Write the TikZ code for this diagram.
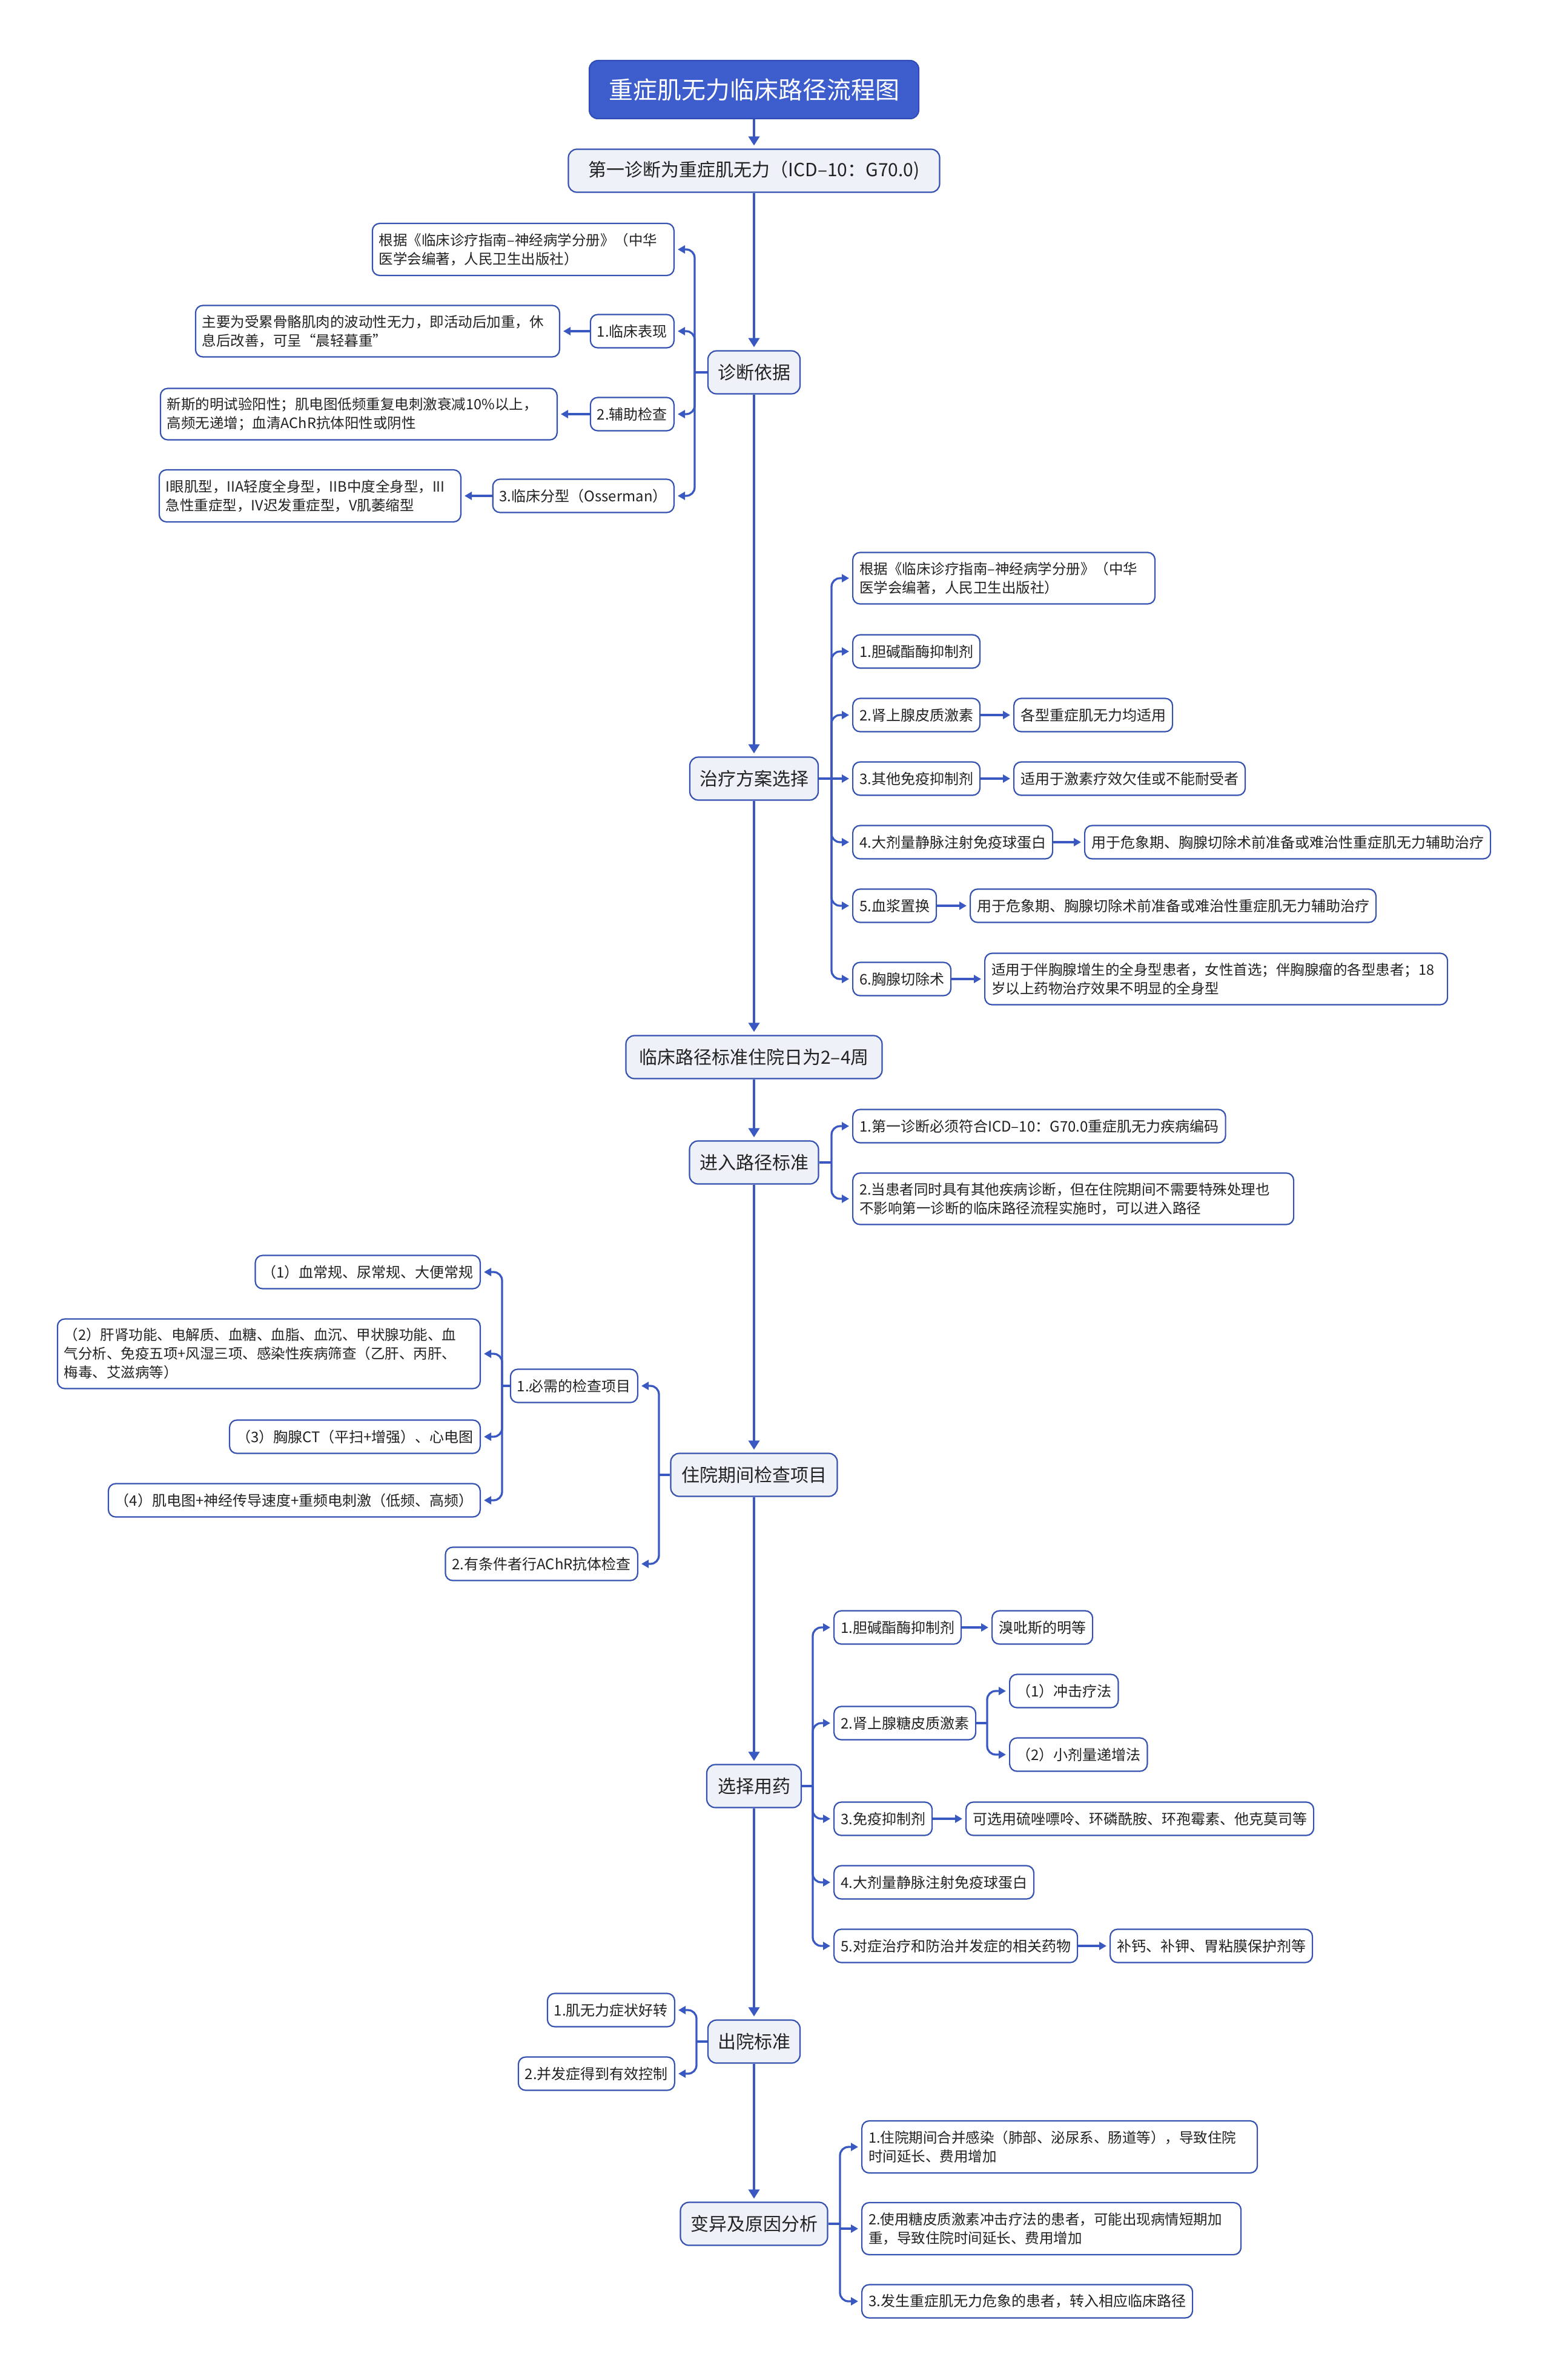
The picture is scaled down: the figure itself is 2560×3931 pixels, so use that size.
\documentclass[tikz,border=0pt]{standalone}
\usepackage{fontspec}
\setmainfont{Noto Sans CJK SC}
\usetikzlibrary{arrows.meta}
\definecolor{lc}{HTML}{3A58C2}
\definecolor{bc}{HTML}{3552B0}
\definecolor{mf}{HTML}{EEF2F8}
\definecolor{tf}{HTML}{3D5DCC}
\definecolor{tb}{HTML}{2F4BB5}
\definecolor{tc}{HTML}{222222}
\newcommand\fsz{\fontsize{24pt}{31pt}\selectfont}
\newcommand\fsm{\fontsize{23.5pt}{31pt}\selectfont}
\newcommand\fmz{\fontsize{30pt}{36pt}\selectfont}
\newcommand\ftz{\fontsize{40pt}{48pt}\selectfont}
\begin{document}
\begin{tikzpicture}[x=1pt,y=-1pt,
  leaf/.style={rounded corners=12pt, draw=bc, line width=2.2pt, fill=white, text=tc, font=\fsz, inner xsep=11pt, inner ysep=0pt, minimum height=55pt},
  multi/.style={leaf, font=\fsm, align=left, text width=#1},
  mainbox/.style={rounded corners=14pt, draw=bc, line width=2.2pt, fill=mf, text=tc, font=\fmz, inner xsep=16pt, inner ysep=0pt, minimum height=71pt},
  titlebox/.style={rounded corners=14pt, draw=tb, line width=2pt, fill=tf, text=white, font=\ftz, minimum width=544pt, minimum height=96pt},
  bar/.style={draw=lc, line width=3.3pt},
  link/.style={draw=lc, line width=3.3pt, -{Triangle[length=12pt,width=13pt]}, shorten >=5pt},
  blink/.style={link, rounded corners=14pt},
  mlink/.style={draw=lc, line width=3.5pt, -{Triangle[length=15pt,width=18pt]}, shorten >=5pt},
]
\useasboundingbox (0,0) rectangle (2560,3931);
\fill[white] (0,0) rectangle (2560,3931);

% main column
\node[titlebox] (title) at (1245,148) {重症肌无力临床路径流程图};
\node[mainbox, minimum width=613pt] (n1) at (1245,282) {第一诊断为重症肌无力（ICD–10：G70.0)};
\node[mainbox, minimum width=151pt] (n2) at (1245,615) {诊断依据};
\node[mainbox, minimum width=211pt] (n3) at (1245,1286) {治疗方案选择};
\node[mainbox, minimum width=423pt] (n4) at (1245,1746) {临床路径标准住院日为2–4周};
\node[mainbox, minimum width=213pt] (n5) at (1245,1920) {进入路径标准};
\node[mainbox, minimum width=275pt] (n6) at (1245,2436) {住院期间检查项目};
\node[mainbox, minimum width=156pt] (n7) at (1245,2950) {选择用药};
\node[mainbox, minimum width=151pt] (n8) at (1245,3372) {出院标准};
\node[mainbox, minimum width=243pt] (n9) at (1245,3673) {变异及原因分析};

\draw[mlink] (title.south) -- (n1.north);
\draw[mlink] (n1.south) -- (n2.north);
\draw[mlink] (n2.south) -- (n3.north);
\draw[mlink] (n3.south) -- (n4.north);
\draw[mlink] (n4.south) -- (n5.north);
\draw[mlink] (n5.south) -- (n6.north);
\draw[mlink] (n6.south) -- (n7.north);
\draw[mlink] (n7.south) -- (n8.north);
\draw[mlink] (n8.south) -- (n9.north);

% 诊断依据 (left)
\coordinate (j2) at (1147,615);
\node[multi=476pt, minimum height=86pt, anchor=east] (d0) at (1114,412) {根据《临床诊疗指南–神经病学分册》（中华\\医学会编著，人民卫生出版社）};
\node[leaf, anchor=east] (d1) at (1114,547) {1.临床表现};
\node[leaf, anchor=east] (d2) at (1114,684) {2.辅助检查};
\node[leaf, anchor=east] (d3) at (1114,819) {3.临床分型（Osserman）};
\node[multi=579pt, minimum height=85pt, anchor=east] (d1a) at (925,547) {主要为受累骨骼肌肉的波动性无力，即活动后加重，休\\息后改善，可呈“晨轻暮重”};
\node[multi=633pt, minimum height=85pt, anchor=east] (d2a) at (921,684) {新斯的明试验阳性；肌电图低频重复电刺激衰减10\%以上，\\高频无递增；血清AChR抗体阳性或阴性};
\node[multi=476pt, minimum height=86pt, anchor=east] (d3a) at (762,819) {I眼肌型，IIA轻度全身型，IIB中度全身型，III\\急性重症型，IV迟发重症型，V肌萎缩型};
\draw[bar] (n2.west) -- (j2);
\foreach \c in {d0,d1,d2,d3} \draw[blink] (j2) |- (\c.east);
\draw[link] (d1.west) -- (d1a.east);
\draw[link] (d2.west) -- (d2a.east);
\draw[link] (d3.west) -- (d3a.east);

% 治疗方案选择 (right)
\coordinate (j3) at (1373,1286);
\node[multi=477pt, minimum height=85pt, anchor=west] (t0) at (1407,955) {根据《临床诊疗指南–神经病学分册》（中华\\医学会编著，人民卫生出版社）};
\node[leaf, anchor=west] (t1) at (1407,1076) {1.胆碱酯酶抑制剂};
\node[leaf, anchor=west] (t2) at (1407,1181) {2.肾上腺皮质激素};
\node[leaf, anchor=west] (t3) at (1407,1286) {3.其他免疫抑制剂};
\node[leaf, anchor=west] (t4) at (1407,1391) {4.大剂量静脉注射免疫球蛋白};
\node[leaf, anchor=west] (t5) at (1407,1496) {5.血浆置换};
\node[leaf, anchor=west] (t6) at (1407,1617) {6.胸腺切除术};
\node[leaf, anchor=west] (t2a) at (1673,1181) {各型重症肌无力均适用};
\node[leaf, anchor=west] (t3a) at (1673,1286) {适用于激素疗效欠佳或不能耐受者};
\node[leaf, anchor=west] (t4a) at (1790,1391) {用于危象期、胸腺切除术前准备或难治性重症肌无力辅助治疗};
\node[leaf, anchor=west] (t5a) at (1601,1496) {用于危象期、胸腺切除术前准备或难治性重症肌无力辅助治疗};
\node[multi=742pt, minimum height=85pt, anchor=west] (t6a) at (1625,1617) {适用于伴胸腺增生的全身型患者，女性首选；伴胸腺瘤的各型患者；18\\岁以上药物治疗效果不明显的全身型};
\draw[bar] (n3.east) -- (j3);
\foreach \c in {t0,t1,t2,t4,t5,t6} \draw[blink] (j3) |- (\c.west);
\draw[link] (j3) -- (t3.west);
\draw[link] (t2.east) -- (t2a.west);
\draw[link] (t3.east) -- (t3a.west);
\draw[link] (t4.east) -- (t4a.west);
\draw[link] (t5.east) -- (t5a.west);
\draw[link] (t6.east) -- (t6a.west);

% 进入路径标准 (right)
\coordinate (j5) at (1373,1920);
\node[leaf, anchor=west] (e1) at (1407,1860) {1.第一诊断必须符合ICD–10：G70.0重症肌无力疾病编码};
\node[multi=706pt, minimum height=85pt, anchor=west] (e2) at (1407,1980) {2.当患者同时具有其他疾病诊断，但在住院期间不需要特殊处理也\\不影响第一诊断的临床路径流程实施时，可以进入路径};
\draw[bar] (n5.east) -- (j5);
\foreach \c in {e1,e2} \draw[blink] (j5) |- (\c.west);

% 住院期间检查项目 (left)
\coordinate (j6) at (1088,2436);
\node[leaf, anchor=east] (h1) at (1054,2289) {1.必需的检查项目};
\node[leaf, anchor=east] (h2) at (1054,2583) {2.有条件者行AChR抗体检查};
\coordinate (jh) at (829,2289);
\node[leaf, anchor=east] (h11) at (794,2101) {（1）血常规、尿常规、大便常规};
\node[multi=676pt, minimum height=115pt, anchor=east] (h12) at (794,2236) {（2）肝肾功能、电解质、血糖、血脂、血沉、甲状腺功能、血\\气分析、免疫五项+风湿三项、感染性疾病筛查（乙肝、丙肝、\\梅毒、艾滋病等）};
\node[leaf, anchor=east] (h13) at (794,2373) {（3）胸腺CT（平扫+增强）、心电图};
\node[leaf, anchor=east] (h14) at (794,2478) {（4）肌电图+神经传导速度+重频电刺激（低频、高频）};
\draw[bar] (n6.west) -- (j6);
\foreach \c in {h1,h2} \draw[blink] (j6) |- (\c.east);
\draw[bar] (h1.west) -- (jh);
\foreach \c in {h11,h12,h13,h14} \draw[blink] (jh) |- (\c.east);

% 选择用药 (right)
\coordinate (j7) at (1342,2950);
\node[leaf, anchor=west] (m1) at (1376,2688) {1.胆碱酯酶抑制剂};
\node[leaf, anchor=west] (m2) at (1376,2846) {2.肾上腺糖皮质激素};
\node[leaf, anchor=west] (m3) at (1376,3004) {3.免疫抑制剂};
\node[leaf, anchor=west] (m4) at (1376,3109) {4.大剂量静脉注射免疫球蛋白};
\node[leaf, anchor=west] (m5) at (1376,3214) {5.对症治疗和防治并发症的相关药物};
\node[leaf, anchor=west] (m1a) at (1637,2688) {溴吡斯的明等};
\coordinate (jm) at (1630,2846);
\node[leaf, anchor=west] (m21) at (1666,2793) {（1）冲击疗法};
\node[leaf, anchor=west] (m22) at (1666,2898) {（2）小剂量递增法};
\node[leaf, anchor=west] (m3a) at (1594,3004) {可选用硫唑嘌呤、环磷酰胺、环孢霉素、他克莫司等};
\node[leaf, anchor=west] (m5a) at (1832,3214) {补钙、补钾、胃粘膜保护剂等};
\draw[bar] (n7.east) -- (j7);
\foreach \c in {m1,m2,m3,m4,m5} \draw[blink] (j7) |- (\c.west);
\draw[link] (m1.east) -- (m1a.west);
\draw[bar] (m2.east) -- (jm);
\foreach \c in {m21,m22} \draw[blink] (jm) |- (\c.west);
\draw[link] (m3.east) -- (m3a.west);
\draw[link] (m5.east) -- (m5a.west);

% 出院标准 (left)
\coordinate (j8) at (1150,3372);
\node[leaf, anchor=east] (c1) at (1115,3320) {1.肌无力症状好转};
\node[leaf, anchor=east] (c2) at (1115,3425) {2.并发症得到有效控制};
\draw[bar] (n8.west) -- (j8);
\foreach \c in {c1,c2} \draw[blink] (j8) |- (\c.east);

% 变异及原因分析 (right)
\coordinate (j9) at (1387,3673);
\node[multi=631pt, minimum height=86pt, anchor=west] (v1) at (1422,3546) {1.住院期间合并感染（肺部、泌尿系、肠道等），导致住院\\时间延长、费用增加};
\node[multi=604pt, minimum height=86pt, anchor=west] (v2) at (1422,3681) {2.使用糖皮质激素冲击疗法的患者，可能出现病情短期加\\重，导致住院时间延长、费用增加};
\node[leaf, anchor=west] (v3) at (1422,3801) {3.发生重症肌无力危象的患者，转入相应临床路径};
\draw[bar] (n9.east) -- (j9);
\foreach \c in {v1,v3} \draw[blink] (j9) |- (\c.west);
\draw[link] (j9 |- v2.west) -- (v2.west);
\end{tikzpicture}
\end{document}
